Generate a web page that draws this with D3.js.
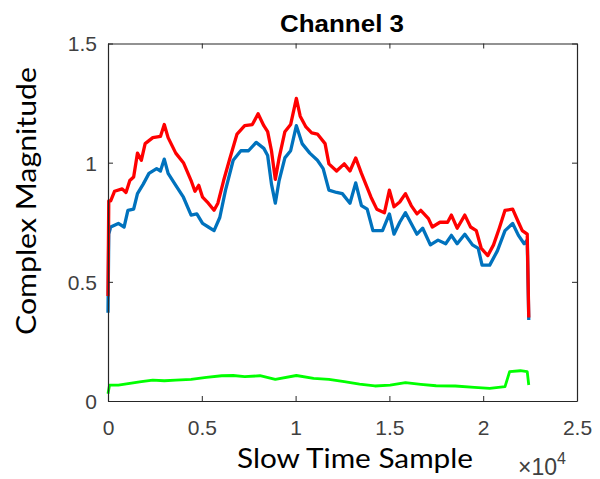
<!DOCTYPE html>
<html><head><meta charset="utf-8">
<script src="https://cdn.jsdelivr.net/npm/d3@7"></script>
<style>body{margin:0;background:#fff}svg{display:block}</style>
</head><body>
<svg id="c" width="600" height="479"></svg>
<script>
// Data (x in samples)
const redX = [0,41,143,347,755,959,1163,1367,1571,1776,1980,2388,2796,3000,3204,3612,4020,4429,4633,4837,5041,5347,5653,5857,6163,6469,6878,7286,7694,8000,8306,8510,8714,8918,9122,9429,9735,10041,10245,10551,10857,11163,11571,11776,12184,12592,12898,13204,13510,13816,14020,14327,14735,15000,15245,15551,15857,16163,16469,16673,17082,17286,17694,18102,18306,18612,19020,19327,19633,19898,20245,20551,20857,21163,21571,21878,22082,22347,22429];
const redY = [0.44,0.84,0.84,0.88,0.89,0.875,0.925,0.94,1.04,1.01,1.08,1.105,1.11,1.16,1.105,1.04,1.0,0.925,0.88,0.905,0.855,0.83,0.80,0.83,0.925,1.01,1.12,1.155,1.16,1.205,1.155,1.13,1.05,0.93,1.02,1.13,1.16,1.27,1.195,1.15,1.125,1.12,1.08,0.995,0.965,0.995,0.965,1.02,0.955,0.895,0.855,0.805,0.79,0.885,0.815,0.835,0.87,0.82,0.785,0.80,0.765,0.73,0.75,0.75,0.78,0.725,0.78,0.73,0.715,0.64,0.61,0.655,0.725,0.80,0.805,0.75,0.715,0.70,0.35];
const blueX = [0,41,143,551,857,1061,1367,1571,1878,2184,2592,2796,3000,3204,3612,4020,4429,4735,5041,5347,5653,5959,6265,6673,7082,7490,7898,8306,8510,8714,8918,9122,9429,9735,10041,10347,10755,11163,11469,11776,12184,12490,12898,13204,13510,13816,14122,14633,15000,15245,15551,15857,16163,16469,16776,17184,17592,18000,18306,18612,19020,19429,19735,19939,20347,20755,21163,21571,21878,22184,22347,22429];
const blueY = [0.37,0.70,0.73,0.745,0.73,0.80,0.805,0.87,0.91,0.955,0.975,0.965,1.015,0.955,0.905,0.855,0.78,0.785,0.745,0.73,0.715,0.77,0.885,1.01,1.05,1.05,1.085,1.06,1.03,0.91,0.83,0.925,1.02,1.05,1.155,1.08,1.04,1.01,0.975,0.885,0.875,0.87,0.83,0.915,0.82,0.805,0.715,0.715,0.785,0.70,0.75,0.79,0.745,0.70,0.725,0.655,0.675,0.66,0.695,0.66,0.70,0.655,0.64,0.57,0.57,0.63,0.715,0.745,0.695,0.66,0.675,0.34];
const greenX = [0,82,551,1163,1776,2388,3000,3612,4429,5245,6061,6673,7286,8102,8918,10041,10959,11776,12592,13408,14224,15041,15857,16673,17490,18510,19531,20347,21163,21408,21980,22347,22429];
const greenY = [0.03,0.067,0.067,0.074,0.081,0.088,0.085,0.088,0.091,0.099,0.106,0.107,0.102,0.106,0.091,0.107,0.095,0.091,0.081,0.071,0.063,0.067,0.077,0.07,0.064,0.063,0.057,0.053,0.06,0.123,0.127,0.123,0.067];
const xTicks = [0,5000,10000,15000,20000,25000];
const xTickLabels = ["0","0.5","1","1.5","2","2.5"];
const yTicks = [0,0.5,1,1.5];
const yTickLabels = ["0","0.5","1","1.5"];
const titleText = "Channel 3";
const xLabel = "Slow Time Sample";
const yLabel = "Complex Magnitude";

const svg = d3.select("#c");
const L=108, R=577, T=43.5, B=401;
const x = d3.scaleLinear().domain([0,25000]).range([L,R]);
const y = d3.scaleLinear().domain([0,1.5]).range([B,T]);
const axisCol = "#262626", labCol = "#404040";
const tickFont = "Liberation Sans, Arial, sans-serif";
const labFont = "Lato, 'Open Sans', sans-serif";

// lines
const line = d3.line().x(d=>x(d[0])).y(d=>y(d[1]));
function draw(xs, ys, col, w){
  svg.append("path").datum(xs.map((v,i)=>[v,ys[i]]))
    .attr("d", line).attr("fill","none").attr("stroke",col)
    .attr("stroke-width",w).attr("stroke-linejoin","round");
}
draw(blueX, blueY, "#0072bd", 3.3);
draw(redX, redY, "#ff0000", 3.3);
draw(greenX, greenY, "#00ff00", 2.8);

// axes (box with inward ticks)
const tl = 5;
const gB = svg.append("g").attr("transform",`translate(0,${B})`)
  .call(d3.axisBottom(x).tickValues(xTicks).tickSize(-tl).tickFormat((d,i)=>xTickLabels[i]).tickSizeOuter(0));
const gT = svg.append("g").attr("transform",`translate(0,${T})`)
  .call(d3.axisTop(x).tickValues(xTicks).tickSize(-tl).tickFormat("").tickSizeOuter(0));
const gL = svg.append("g").attr("transform",`translate(${L},0)`)
  .call(d3.axisLeft(y).tickValues(yTicks).tickSize(-tl).tickFormat((d,i)=>yTickLabels[i]).tickSizeOuter(0));
const gR = svg.append("g").attr("transform",`translate(${R},0)`)
  .call(d3.axisRight(y).tickValues(yTicks).tickSize(-tl).tickFormat("").tickSizeOuter(0));
[gB,gT,gL,gR].forEach(g=>{
  g.selectAll("path.domain").attr("stroke",axisCol).attr("stroke-width",1.2);
  g.selectAll(".tick line").attr("stroke",axisCol).attr("stroke-width",1);
  g.selectAll(".tick text").attr("fill",labCol).attr("font-family",tickFont).attr("font-size",21);
});
gB.selectAll(".tick text").attr("y",19).attr("dy","0.71em");
gL.selectAll(".tick text").attr("x",-11).attr("dy","0.35em");

// title
svg.append("text").attr("x",342).attr("y",32).attr("text-anchor","middle")
  .attr("font-family","Liberation Sans, Arial, sans-serif").attr("font-weight","bold")
  .attr("font-size",23).attr("textLength",124).attr("lengthAdjust","spacingAndGlyphs")
  .attr("fill","#000").text(titleText);
// x label
svg.append("text").attr("x",355).attr("y",468).attr("text-anchor","middle")
  .attr("font-family",labFont).attr("font-size",27).attr("textLength",236).attr("lengthAdjust","spacingAndGlyphs")
  .attr("fill","#000").text(xLabel);
// y label
svg.append("text").attr("transform","translate(36,201) rotate(-90)").attr("text-anchor","middle")
  .attr("font-family",labFont).attr("font-size",27).attr("textLength",268).attr("lengthAdjust","spacingAndGlyphs")
  .attr("fill","#000").text(yLabel);
// exponent
const ex = svg.append("text").attr("x",518).attr("y",475).attr("font-family",tickFont)
  .attr("font-size",23).attr("fill",labCol);
ex.append("tspan").text("\u00d710");
ex.append("tspan").attr("dy",-11).attr("font-size",16).text("4");
</script>
</body></html>
